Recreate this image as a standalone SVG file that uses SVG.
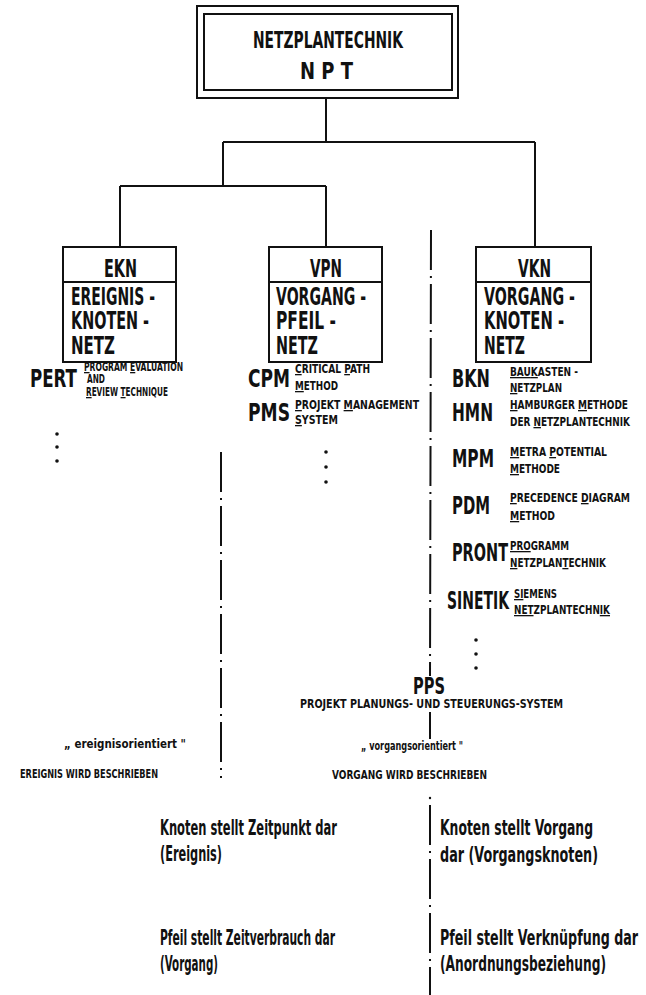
<svg xmlns="http://www.w3.org/2000/svg" width="646" height="995" viewBox="0 0 646 995">
<style>
text{font-family:"DejaVu Sans Condensed","DejaVu Sans","Liberation Sans Narrow",sans-serif;font-stretch:condensed;font-weight:bold;fill:#111}
.big{font-size:24px}
.sm{font-size:13px}
.lo{font-size:22px}
.u{text-decoration:underline}
.box{fill:#fff;stroke:#111;stroke-width:2}
.ln{stroke:#111;stroke-width:2;fill:none}
.dd{stroke:#111;stroke-width:2;fill:none;stroke-dasharray:40 6 2 6}
.dot{fill:#111}
</style>
<g id="connectors">
<line class="ln" x1="326" y1="98" x2="326" y2="142"/>
<line class="ln" x1="223" y1="142" x2="535" y2="142"/>
<line class="ln" x1="223" y1="142" x2="223" y2="186"/>
<line class="ln" x1="120" y1="186" x2="326" y2="186"/>
<line class="ln" x1="120" y1="186" x2="120" y2="247"/>
<line class="ln" x1="326" y1="186" x2="326" y2="247"/>
<line class="ln" x1="535" y1="142" x2="535" y2="247"/>
</g>
<g id="separators">
<line class="dd" x1="221" y1="452" x2="221" y2="778"/>
<line class="dd" x1="431" y1="230" x2="430" y2="676"/>
<line class="ln" x1="430" y1="712" x2="430" y2="739"/>
<line class="dd" x1="430" y1="805" x2="430" y2="995"/>
<circle class="dot" cx="430" cy="798" r="1.2"/>
</g>
<g id="npt">
<rect class="box" x="197" y="6" width="261" height="92"/>
<rect class="box" x="204" y="14" width="248" height="76"/>
<text x="253" y="48" font-size="23" textLength="150" lengthAdjust="spacingAndGlyphs">NETZPLANTECHNIK</text>
<text x="300" y="79" font-size="23" textLength="53" lengthAdjust="spacingAndGlyphs">N P T</text>
</g>
<g id="ekn">
<rect class="box" x="63" y="247" width="113" height="115"/>
<line class="ln" x1="63" y1="282" x2="176" y2="282"/>
<text class="big" x="104" y="277" textLength="33" lengthAdjust="spacingAndGlyphs">EKN</text>
<text class="big" x="71" y="305" textLength="84" lengthAdjust="spacingAndGlyphs">EREIGNIS -</text>
<text class="big" x="71" y="329" textLength="78" lengthAdjust="spacingAndGlyphs">KNOTEN -</text>
<text class="big" x="71" y="354" textLength="44" lengthAdjust="spacingAndGlyphs">NETZ</text>
</g>
<g id="vpn">
<rect class="box" x="269" y="247" width="113" height="115"/>
<line class="ln" x1="269" y1="282" x2="382" y2="282"/>
<text class="big" x="310" y="277" textLength="32" lengthAdjust="spacingAndGlyphs">VPN</text>
<text class="big" x="276" y="305" textLength="90" lengthAdjust="spacingAndGlyphs">VORGANG -</text>
<text class="big" x="276" y="329" textLength="60" lengthAdjust="spacingAndGlyphs">PFEIL -</text>
<text class="big" x="276" y="354" textLength="42" lengthAdjust="spacingAndGlyphs">NETZ</text>
</g>
<g id="vkn">
<rect class="box" x="476" y="247" width="115" height="115"/>
<line class="ln" x1="476" y1="282" x2="591" y2="282"/>
<text class="big" x="518" y="277" textLength="33" lengthAdjust="spacingAndGlyphs">VKN</text>
<text class="big" x="484" y="305" textLength="91" lengthAdjust="spacingAndGlyphs">VORGANG -</text>
<text class="big" x="484" y="329" textLength="80" lengthAdjust="spacingAndGlyphs">KNOTEN -</text>
<text class="big" x="484" y="354" textLength="41" lengthAdjust="spacingAndGlyphs">NETZ</text>
</g>
<g id="pert">
<text class="big" x="30" y="387" textLength="47" lengthAdjust="spacingAndGlyphs">PERT</text>
<text class="sm" x="84" y="371" textLength="99" lengthAdjust="spacingAndGlyphs"><tspan class="u">P</tspan>ROGRAM <tspan class="u">E</tspan>VALUATION</text>
<text class="sm" x="87" y="383" textLength="18" lengthAdjust="spacingAndGlyphs">AND</text>
<text class="sm" x="86" y="396" textLength="82" lengthAdjust="spacingAndGlyphs"><tspan class="u">R</tspan>EVIEW <tspan class="u">T</tspan>ECHNIQUE</text>
<circle class="dot" cx="57" cy="434" r="1.8"/>
<circle class="dot" cx="57" cy="447" r="1.8"/>
<circle class="dot" cx="57" cy="461" r="1.8"/>
</g>
<g id="cpm">
<text class="big" x="248" y="387" textLength="42" lengthAdjust="spacingAndGlyphs">CPM</text>
<text class="sm" x="295" y="373" textLength="75" lengthAdjust="spacingAndGlyphs"><tspan class="u">C</tspan>RITICAL <tspan class="u">P</tspan>ATH</text>
<text class="sm" x="295" y="390" textLength="43" lengthAdjust="spacingAndGlyphs"><tspan class="u">M</tspan>ETHOD</text>
</g>
<g id="pms">
<text class="big" x="248" y="421" textLength="42" lengthAdjust="spacingAndGlyphs">PMS</text>
<text class="sm" x="295" y="409" textLength="124" lengthAdjust="spacingAndGlyphs"><tspan class="u">P</tspan>ROJEKT  <tspan class="u">M</tspan>ANAGEMENT</text>
<text class="sm" x="295" y="424" textLength="43" lengthAdjust="spacingAndGlyphs"><tspan class="u">S</tspan>YSTEM</text>
<circle class="dot" cx="326" cy="452" r="1.8"/>
<circle class="dot" cx="326" cy="467" r="1.8"/>
<circle class="dot" cx="326" cy="482" r="1.8"/>
</g>
<g id="bkn">
<text class="big" x="452" y="387" textLength="38" lengthAdjust="spacingAndGlyphs">BKN</text>
<text class="sm" x="510" y="376" textLength="68" lengthAdjust="spacingAndGlyphs"><tspan class="u">BAU</tspan><tspan class="u">K</tspan>ASTEN -</text>
<text class="sm" x="510" y="392" textLength="52" lengthAdjust="spacingAndGlyphs"><tspan class="u">N</tspan>ETZPLAN</text>
</g>
<g id="hmn">
<text class="big" x="452" y="421" textLength="41" lengthAdjust="spacingAndGlyphs">HMN</text>
<text class="sm" x="510" y="409" textLength="118" lengthAdjust="spacingAndGlyphs"><tspan class="u">H</tspan>AMBURGER <tspan class="u">M</tspan>ETHODE</text>
<text class="sm" x="510" y="426" textLength="120" lengthAdjust="spacingAndGlyphs">DER <tspan class="u">N</tspan>ETZPLANTECHNIK</text>
</g>
<g id="mpm">
<text class="big" x="452" y="467" textLength="42" lengthAdjust="spacingAndGlyphs">MPM</text>
<text class="sm" x="510" y="456" textLength="97" lengthAdjust="spacingAndGlyphs"><tspan class="u">M</tspan>ETRA <tspan class="u">P</tspan>OTENTIAL</text>
<text class="sm" x="510" y="473" textLength="50" lengthAdjust="spacingAndGlyphs"><tspan class="u">M</tspan>ETHODE</text>
</g>
<g id="pdm">
<text class="big" x="452" y="514" textLength="38" lengthAdjust="spacingAndGlyphs">PDM</text>
<text class="sm" x="510" y="502" textLength="120" lengthAdjust="spacingAndGlyphs"><tspan class="u">P</tspan>RECEDENCE <tspan class="u">D</tspan>IAGRAM</text>
<text class="sm" x="510" y="520" textLength="45" lengthAdjust="spacingAndGlyphs"><tspan class="u">M</tspan>ETHOD</text>
</g>
<g id="pront">
<text class="big" x="452" y="561" textLength="56" lengthAdjust="spacingAndGlyphs">PRONT</text>
<text class="sm" x="510" y="550" textLength="59" lengthAdjust="spacingAndGlyphs"><tspan class="u">PRO</tspan>GRAMM</text>
<text class="sm" x="510" y="567" textLength="96" lengthAdjust="spacingAndGlyphs"><tspan class="u">N</tspan>ETZPLAN<tspan class="u">T</tspan>ECHNIK</text>
</g>
<g id="sinetik">
<text class="big" x="447" y="609" textLength="62" lengthAdjust="spacingAndGlyphs">SINETIK</text>
<text class="sm" x="514" y="598" textLength="43" lengthAdjust="spacingAndGlyphs"><tspan class="u">SI</tspan>EMENS</text>
<text class="sm" x="514" y="614" textLength="96" lengthAdjust="spacingAndGlyphs"><tspan class="u">NET</tspan>ZPLANTECHN<tspan class="u">IK</tspan></text>
<circle class="dot" cx="476" cy="640" r="1.8"/>
<circle class="dot" cx="476" cy="654" r="1.8"/>
<circle class="dot" cx="476" cy="668" r="1.8"/>
</g>
<g id="pps">
<text x="413" y="694" font-size="23" textLength="32" lengthAdjust="spacingAndGlyphs">PPS</text>
<text class="sm" x="300" y="708" textLength="263" lengthAdjust="spacingAndGlyphs">PROJEKT PLANUNGS-  UND STEUERUNGS-SYSTEM</text>
</g>
<g id="ereignisorientiert">
<text x="64" y="748" font-size="12" textLength="122" lengthAdjust="spacingAndGlyphs">„ ereignisorientiert "</text>
<text class="sm" x="20" y="778" textLength="138" lengthAdjust="spacingAndGlyphs">EREIGNIS WIRD BESCHRIEBEN</text>
</g>
<g id="vorgangsorientiert">
<text x="361" y="750" font-size="12" textLength="102" lengthAdjust="spacingAndGlyphs">„ vorgangsorientiert "</text>
<text class="sm" x="332" y="779" textLength="155" lengthAdjust="spacingAndGlyphs">VORGANG WIRD BESCHRIEBEN</text>
</g>
<g id="left-notes">
<text class="lo" x="160" y="835" textLength="177" lengthAdjust="spacingAndGlyphs">Knoten stellt Zeitpunkt dar</text>
<text class="lo" x="160" y="861" textLength="62" lengthAdjust="spacingAndGlyphs">(Ereignis)</text>
<text class="lo" x="160" y="945" textLength="175" lengthAdjust="spacingAndGlyphs">Pfeil stellt Zeitverbrauch dar</text>
<text class="lo" x="160" y="971" textLength="58" lengthAdjust="spacingAndGlyphs">(Vorgang)</text>
</g>
<g id="right-notes">
<text class="lo" x="440" y="835" textLength="153" lengthAdjust="spacingAndGlyphs">Knoten stellt Vorgang</text>
<text class="lo" x="440" y="862" textLength="158" lengthAdjust="spacingAndGlyphs">dar (Vorgangsknoten)</text>
<text class="lo" x="440" y="945" textLength="198" lengthAdjust="spacingAndGlyphs">Pfeil stellt Verknüpfung dar</text>
<text class="lo" x="440" y="971" textLength="166" lengthAdjust="spacingAndGlyphs">(Anordnungsbeziehung)</text>
</g>
</svg>
